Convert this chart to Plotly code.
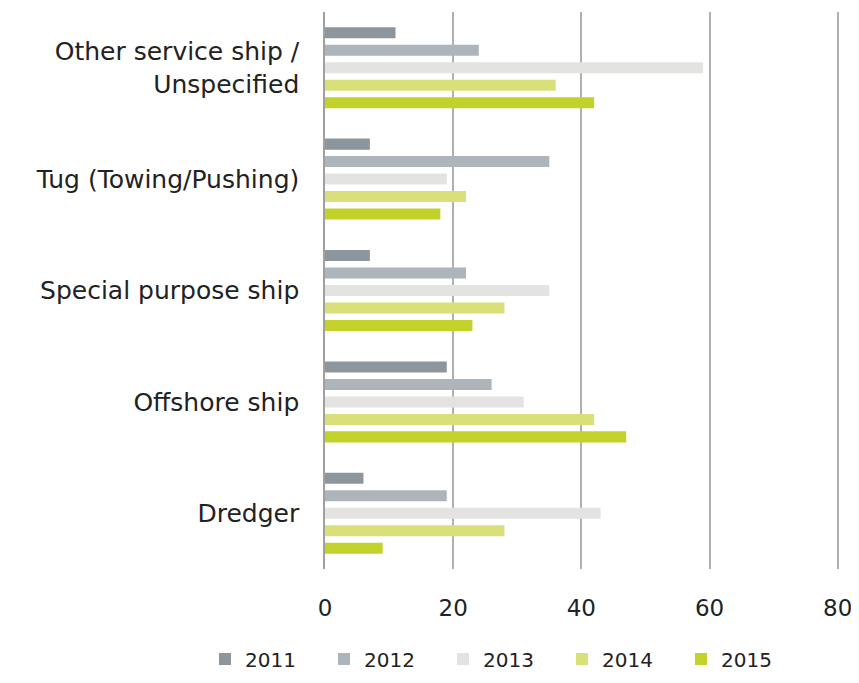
import plotly.graph_objects as go

categories = ["Other service ship /<br>Unspecified", "Tug (Towing/Pushing)", "Special purpose ship", "Offshore ship", "Dredger"]
years = ["2011", "2012", "2013", "2014", "2015"]
v2011 = [11, 7, 7, 19, 6]
v2012 = [24, 35, 22, 26, 19]
v2013 = [59, 19, 35, 31, 43]
v2014 = [36, 22, 28, 42, 28]
v2015 = [42, 18, 23, 47, 9]
colors = ["#8c969c", "#adb5bb", "#e3e3e2", "#d9e07a", "#c3d22a"]

fig = go.Figure()
for name, vals, c in zip(years, [v2011, v2012, v2013, v2014, v2015], colors):
    fig.add_trace(go.Bar(y=categories, x=vals, name=name, orientation="h",
                         marker=dict(color=c, line=dict(width=0))))

ML, MR, MT, MB = 317, 20, 4, 111
W, H = 851, 675
PW = W - ML - MR
PH = H - MT - MB

fig.update_layout(
    width=W, height=H,
    margin=dict(l=ML, r=MR, t=MT, b=MB),
    barmode="group", bargap=0.215, bargroupgap=0.37,
    plot_bgcolor="white", paper_bgcolor="white",
    font=dict(family="DejaVu Sans, sans-serif", color="#222222", size=22),
    legend=dict(orientation="h", x=(197 - ML) / PW, xanchor="left",
                y=-(H - 1 - (MT + PH)) / PH, yanchor="bottom",
                font=dict(size=20), traceorder="normal",
                entrywidth=74, entrywidthmode="pixels"),
    showlegend=True,
)
fig.update_xaxes(range=[0, 80.2], tickvals=[0, 20, 40, 60, 80], showgrid=True,
                 gridcolor="#b0b0b0", gridwidth=1.5, zeroline=False, showline=False,
                 ticks="", ticklabelstandoff=23, tickfont=dict(size=23))
fig.update_yaxes(autorange="reversed", showline=True, linecolor="#a0a0a0", linewidth=1.5,
                 ticks="", ticklabelstandoff=19, tickfont=dict(size=25), showgrid=False)

fig.write_html("out.html")
